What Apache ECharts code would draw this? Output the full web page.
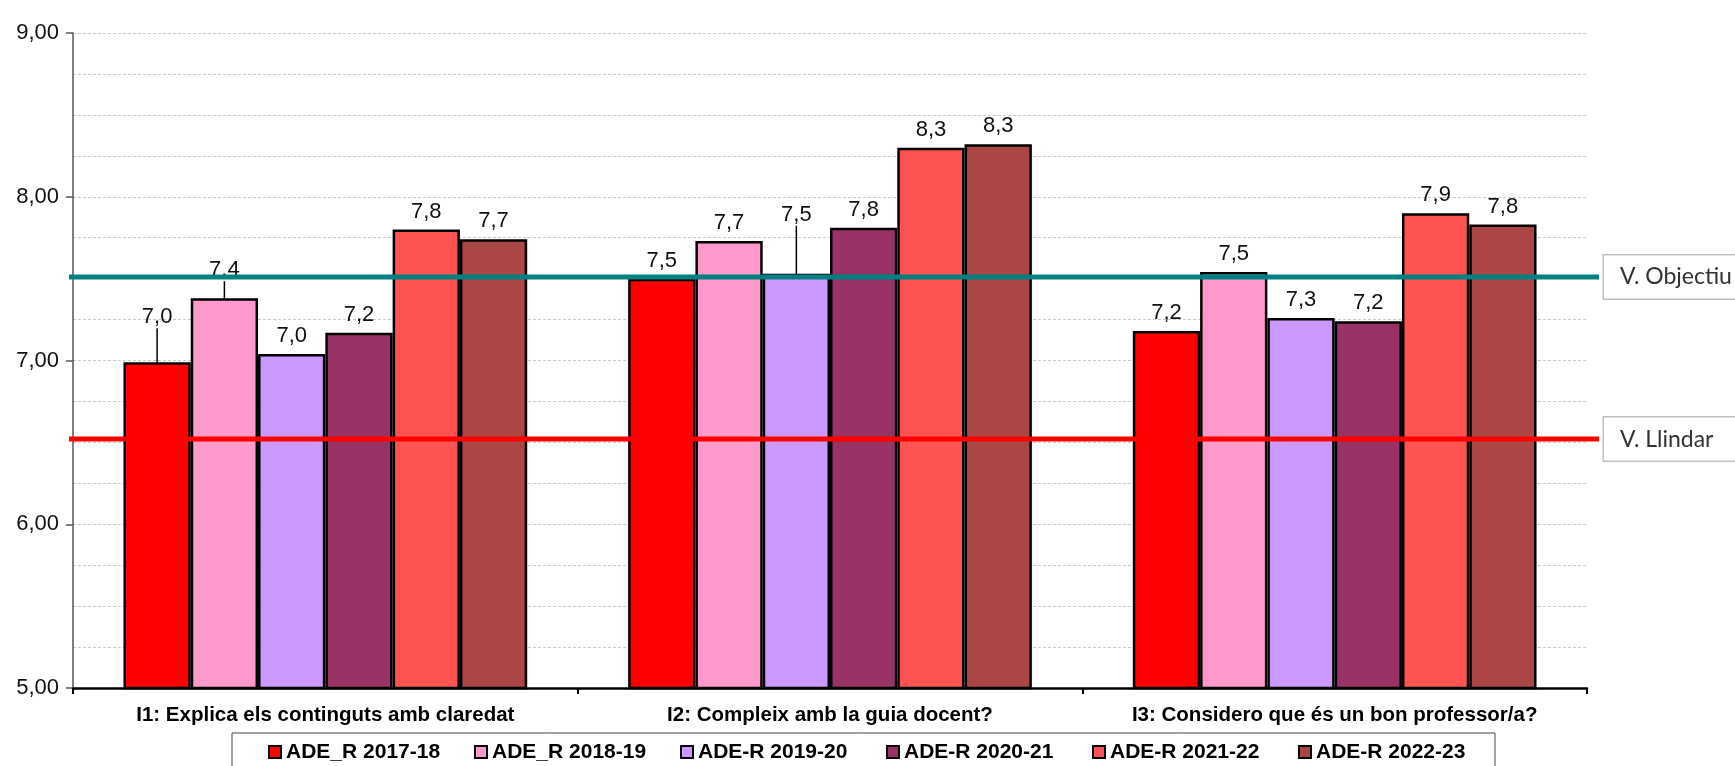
<!DOCTYPE html>
<html>
<head>
<meta charset="utf-8">
<script src="https://cdn.jsdelivr.net/npm/echarts@6/dist/echarts.min.js"></script>
<style>
  html, body { margin: 0; padding: 0; background: #fff; }
  #chart { width: 1735px; height: 766px; }
</style>
</head>
<body>
<div id="chart"></div>
<script>
// categories and values
var categories = [
	'I1: Explica els continguts amb claredat',
	'I2: Compleix amb la guia docent?',
	'I3: Considero que és un bon professor/a?'
];
var seriesNames = ['ADE_R 2017-18', 'ADE_R 2018-19', 'ADE-R 2019-20', 'ADE-R 2020-21', 'ADE-R 2021-22', 'ADE-R 2022-23'];
var v2017 = [6.99, 7.50, 7.18];
var v2018 = [7.38, 7.73, 7.54];
var v2019 = [7.04, 7.53, 7.26];
var v2020 = [7.17, 7.81, 7.24];
var v2021 = [7.80, 8.30, 7.90];
var v2022 = [7.74, 8.32, 7.83];
var objectiu = [7.51, 7.51];
var llindar = [6.52, 6.52];

var colors = ['#ff0000', '#ff99cc', '#cc99ff', '#993366', '#ff5353', '#aa4644'];
var values = [v2017, v2018, v2019, v2020, v2021, v2022];

// labels that were moved up by hand in the original (series-index : dy)
var labelShift = { '0-0': -27, '1-0': -10, '2-1': -41 };

function comma(v, d) {
	return v.toFixed(d).replace('.', ',');
}

var barSeries = values.map(function (vals, i) {
	return {
		name : seriesNames[i],
		type : 'bar',
		xAxisIndex : 0,
		yAxisIndex : 0,
		data : vals.map(function (v, j) {
			if (labelShift[i + '-' + j]) {
				return { value : v, labelLine : { show : true } };
			}
			return v;
		}),
		barGap : '0%',
		barCategoryGap : '20%',
		itemStyle : {
			color : colors[i],
			borderColor : '#000',
			borderWidth : 2.5
		},
		label : {
			show : true,
			position : 'top',
			distance : 7,
			fontFamily : 'Liberation Sans',
			fontSize : 22,
			color : '#111',
			formatter : function (p) { return comma(p.value, 1); }
		},
		labelLine : {
			show : false,
			lineStyle : { color : '#000', width : 1.5 }
		},
		labelLayout : function (p) {
			var dy = labelShift[p.seriesIndex + '-' + p.dataIndex];
			return dy ? { dy : dy } : {};
		}
	};
});

function refLine(name, data, color) {
	return {
		name : name,
		type : 'line',
		xAxisIndex : 1,
		yAxisIndex : 1,
		data : data,
		symbol : 'none',
		silent : true,
		z : 5,
		lineStyle : { color : color, width : 5 },
		endLabel : {
			show : true,
			distance : 5,
			formatter : name,
			fontFamily : 'Lato',
			fontSize : 23,
			lineHeight : 25,
			color : '#333',
			backgroundColor : '#fff',
			borderColor : '#bfbfbf',
			borderWidth : 1.5,
			padding : [9, 60, 9, 16]
		}
	};
}

var chart = echarts.init(document.getElementById('chart'), null, { renderer : 'canvas' });
var option = {
	animation : false,
	backgroundColor : '#fff',
	color : colors,
	grid : [
		{ left : 73, right : 148, top : 33, bottom : 78 },
		{ left : 69, right : 136, top : 33, bottom : 78 }
	],
	legend : {
		data : seriesNames,
		left : 232,
		top : 733,
		padding : [7, 24, 14, 36],
		itemGap : 33,
		itemWidth : 12,
		itemHeight : 12,
		icon : 'rect',
		borderColor : '#444',
		borderWidth : 1,
		itemStyle : { borderColor : '#000', borderWidth : 2 },
		textStyle : {
			fontFamily : 'Liberation Sans',
			fontWeight : 'bold',
			fontSize : 21,
			lineHeight : 24,
			color : '#000',
			width : 155
		}
	},
	xAxis : [ {
		type : 'category',
		gridIndex : 0,
		data : categories,
		axisLine : { lineStyle : { color : '#000', width : 2.5 } },
		axisTick : { show : true, length : 6, lineStyle : { color : '#000', width : 2 } },
		axisLabel : {
			interval : 0,
			hideOverlap : false,
			margin : 17,
			fontFamily : 'Liberation Sans',
			fontWeight : 'bold',
			fontSize : 20.5,
			color : '#000'
		}
	}, {
		type : 'category',
		gridIndex : 1,
		data : ['', ''],
		boundaryGap : false,
		show : false
	} ],
	yAxis : [ {
		type : 'value',
		gridIndex : 0,
		min : 5,
		max : 9,
		interval : 1,
		axisLine : { show : true, lineStyle : { color : '#555', width : 1.5 } },
		axisTick : { show : true, length : 7, lineStyle : { color : '#555', width : 1.5 } },
		axisLabel : {
			margin : 14,
			fontFamily : 'Liberation Sans',
			fontSize : 22,
			color : '#111',
			formatter : function (v) { return comma(v, 2); }
		},
		splitLine : { show : true, lineStyle : { color : '#c8c8c8', type : [3, 2], width : 1 } },
		minorTick : { show : false, splitNumber : 4 },
		minorSplitLine : { show : true, lineStyle : { color : '#c8c8c8', type : [3, 2], width : 1 } }
	}, {
		type : 'value',
		gridIndex : 1,
		min : 5,
		max : 9,
		show : false,
		splitLine : { show : false }
	} ],
	series : barSeries.concat([
		refLine('V. Objectiu', objectiu, '#008080'),
		refLine('V. Llindar', llindar, '#ff0000')
	])
};
chart.setOption(option);
</script>
</body>
</html>
